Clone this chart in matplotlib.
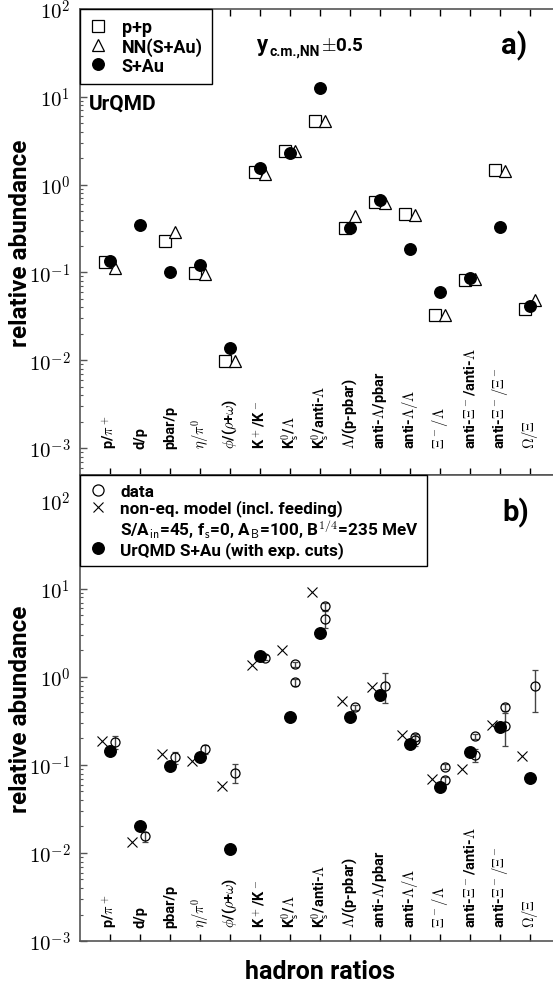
import numpy as np
import matplotlib
matplotlib.use('Agg')
import matplotlib.pyplot as plt
import matplotlib.transforms as mtransforms
from matplotlib.lines import Line2D
from matplotlib.ticker import FixedLocator, LogLocator, FuncFormatter, NullFormatter

plt.rcParams['font.family'] = ['Roboto', 'DejaVu Sans']
plt.rcParams['mathtext.fontset'] = 'cm'

nan = np.nan

# hadron ratio names (x categories)
ratios = [r'p/$\pi^+$', 'd/p', 'pbar/p', r'$\eta/\pi^0$', r'$\phi$/($\rho$+$\omega$)',
          r'K$^+$/K$^-$', r'K$^0_{\mathsf{s}}$/$\Lambda$', r'K$^0_{\mathsf{s}}$/anti-$\Lambda$',
          r'$\Lambda$/(p-pbar)', r'anti-$\Lambda$/pbar', r'anti-$\Lambda/\Lambda$',
          r'$\Xi^-/\Lambda$', r'anti-$\Xi^-$/anti-$\Lambda$', r'anti-$\Xi^-/\Xi^-$', r'$\Omega/\Xi$']

# panel a) UrQMD, y_cm +-0.5
pp = [0.131, nan, 0.227, 0.098, 0.0097, 1.38, 2.43, 5.33, 0.319, 0.63, 0.465, 0.0325, 0.081, 1.48, 0.0387]
nn_sau = [0.112, nan, 0.288, 0.097, 0.0098, 1.32, 2.40, 5.30, 0.437, 0.62, 0.45, 0.033, 0.084, 1.42, 0.048]
s_au = [0.135, 0.351, 0.100, 0.12, 0.0138, 1.53, 2.27, 12.6, 0.32, 0.67, 0.184, 0.0604, 0.086, 0.33, 0.042]

# panel b) data vs. models
noneq_model = [0.188, 0.0132, 0.135, 0.110, 0.058, 1.38, 2.0, 9.2, 0.538, 0.762, 0.218, 0.0685, 0.0897, 0.283, 0.126]
urqmd_cuts = [0.143, 0.0204, 0.097, 0.122, 0.011, 1.71, 0.355, 3.12, 0.348, 0.619, 0.172, 0.0566, 0.139, 0.271, 0.072]
data1 = [0.183, 0.0155, 0.122, 0.151, 0.082, 1.66, 1.39, 6.38, 0.453, 0.80, 0.207, 0.0955, 0.212, 0.453, 0.80]
err1 = [0.03, 0.002, 0.02, 0.018, 0.02, 0.1, 0.1, 0.6, 0.03, 0.3, 0.02, 0.006, 0.015, 0.04, 0.4]
data2 = [nan, nan, nan, nan, nan, nan, 0.877, 4.58, nan, nan, 0.194, 0.067, 0.129, 0.278, nan]
err2 = [nan, nan, nan, nan, nan, nan, 0.08, 1.0, nan, nan, 0.03, 0.006, 0.022, 0.115, nan]

x = np.arange(1, len(ratios) + 1)

W, H = 553, 987
fig = plt.figure(figsize=(W / 100, H / 100), dpi=100)
axA = fig.add_axes([80 / W, 1 - 476 / H, 480 / W, 466 / H])
axB = fig.add_axes([80 / W, 1 - 942 / H, 480 / W, 466 / H])

spine_col = '#555555'


def fx(px):
    # pixel column -> axes fraction (axes span 80..560 px)
    return (px - 80) / 480


def style_axes(ax, ylim, top_ticks):
    ax.set_yscale('log')
    ax.set_ylim(*ylim)
    ax.set_xlim(0, 16)
    for s in ['left', 'bottom', 'top']:
        ax.spines[s].set_color(spine_col)
        ax.spines[s].set_linewidth(1.2)
    ax.spines['right'].set_visible(False)
    ax.xaxis.set_major_locator(FixedLocator(x))
    ax.tick_params(axis='x', which='both', direction='in', length=5, width=1,
                   color='black', top=top_ticks, bottom=True, labelbottom=False)
    ax.yaxis.set_major_locator(LogLocator(base=10, numticks=10))
    ax.yaxis.set_minor_locator(LogLocator(base=10, subs=np.arange(2, 10), numticks=20))
    ax.yaxis.set_minor_formatter(NullFormatter())
    ax.yaxis.set_major_formatter(FuncFormatter(lambda v, p: r'$10^{%d}$' % round(np.log10(v))))
    ax.tick_params(axis='y', which='major', direction='in', length=5, width=1, pad=7, labelsize=15)
    ax.tick_params(axis='y', which='minor', direction='in', length=2.5, width=0.8)
    ax.tick_params(axis='y', which='both', right=False, color=spine_col)


def ratio_labels(ax, yfrac):
    trans = mtransforms.blended_transform_factory(ax.transData, ax.transAxes)
    for xi, lab in zip(x, ratios):
        ax.text(xi, yfrac, lab, transform=trans, rotation=90, ha='center', va='bottom',
                fontsize=10.5, fontweight='bold')


# ---- panel a ----
style_axes(axA, (10 ** -3.307, 1e2), True)
axA.plot(x - 0.17, pp, 's', ms=8, mfc='white', mec='black', mew=0.9, label='p+p')
axA.plot(x + 0.16, nn_sau, '^', ms=8, mfc='white', mec='black', mew=0.9, label='NN(S+Au)')
axA.plot(x, s_au, 'o', ms=8.3, color='black', label='S+Au')
ratio_labels(axA, 0.058)

legA = axA.legend(loc='upper left', bbox_to_anchor=(0, 1), borderaxespad=0, fancybox=False,
                  edgecolor='black', framealpha=1, prop={'weight': 'bold', 'size': 13},
                  handlelength=1.0, handletextpad=0.8, borderpad=0.5, labelspacing=0.05)
legA.get_frame().set_linewidth(1.0)

axA.text(fx(89), 0.798, 'UrQMD', transform=axA.transAxes, fontsize=15, fontweight='bold',
         ha='left', va='center')
# y_c.m.,NN +-0.5
yb = 0.912
axA.text(fx(257), yb, 'y', transform=axA.transAxes, fontsize=16, fontweight='bold',
         ha='left', va='baseline')
axA.text(fx(270), yb - 0.009, 'c.m.,NN', transform=axA.transAxes, fontsize=10,
         fontweight='bold', ha='left', va='baseline')
axA.text(fx(321), yb, r'$\pm$0.5', transform=axA.transAxes, fontsize=13.5,
         fontweight='bold', ha='left', va='baseline')
axA.text(0.904, 0.923, 'a)', transform=axA.transAxes, fontsize=21, fontweight='bold',
         ha='center', va='center')

# ---- panel b ----
style_axes(axB, (1e-3, 10 ** 2.295), False)
axB.plot(x - 0.26, noneq_model, 'x', ms=7, mew=0.8, color='black')
axB.errorbar(x + 0.15, data1, yerr=err1, fmt='o', ms=6.5, mfc='none', mec='black', mew=0.9,
             ecolor='#444444', elinewidth=1, capsize=2.5)
axB.errorbar(x + 0.15, data2, yerr=err2, fmt='o', ms=6.5, mfc='none', mec='black', mew=0.9,
             ecolor='#444444', elinewidth=1, capsize=2.5)
axB.plot(x, urqmd_cuts, 'o', ms=8.3, color='black')
ratio_labels(axB, 0.030)

handlesB = [
    Line2D([], [], ls='none', marker='o', ms=8, mfc='white', mec='black', mew=0.9),
    Line2D([], [], ls='none', marker='x', ms=7, mew=0.8, color='black'),
    Line2D([], [], ls='none'),
    Line2D([], [], ls='none', marker='o', ms=8.3, color='black'),
]
labelsB = ['data', 'non-eq. model (incl. feeding)',
           r'S/A$_{\mathsf{in}}$=45, f$_{\mathsf{s}}$=0, A$_{\mathsf{B}}$=100, B$^{1/4}$=235 MeV',
           'UrQMD S+Au (with exp. cuts)']
legB = axB.legend(handlesB, labelsB, loc='upper left', bbox_to_anchor=(0, 1), borderaxespad=0,
                  fancybox=False, edgecolor='black', framealpha=1,
                  prop={'weight': 'bold', 'size': 12.3},
                  handlelength=1.1, handletextpad=0.75, borderpad=0.5, labelspacing=0.05)
legB.get_frame().set_linewidth(1.0)

axB.text(0.908, 0.921, 'b)', transform=axB.transAxes, fontsize=21, fontweight='bold',
         ha='center', va='center')

# axis titles
for yc in (243, 709):
    fig.text(21 / W, 1 - yc / H, 'relative abundance', rotation=90, ha='center', va='center',
             fontsize=17.5, fontweight='bold')
fig.text(320 / W, 1 - 972 / H, 'hadron ratios', ha='center', va='center', fontsize=18,
         fontweight='bold')

fig.savefig('out.png', dpi=100)
